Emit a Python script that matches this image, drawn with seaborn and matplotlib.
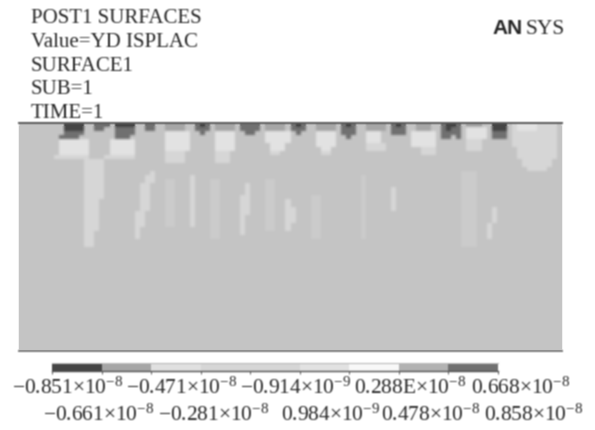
"""
ANSYS surface contour plot redrawn as a seaborn heatmap
"""

import numpy as np
import matplotlib
matplotlib.use("Agg")
import matplotlib.pyplot as plt
from matplotlib.colors import ListedColormap
import seaborn as sns

# Contour bands read off the legend, dark to dark (index = band number)
# 9 is the very faint band of the slivers, 10 only shows in the legend strip
band_colors = ['#454545', '#a6a6a6', '#e0e0e0', '#d6d6d6', '#c4c4c4',
               '#e2e2e2', '#f8f8f8', '#b2b2b2', '#707070', '#cbcbcb', '#d6d6d6']
legend_bands = [0, 1, 2, 3, 10, 5, 6, 7, 8]

title_lines = ['POST1 SURFACES', 'Value=YD ISPLAC', 'SURFACE1', 'SUB=1', 'TIME=1']

labels_top = ['−0.851×10$^{-8}$', '−0.471×10$^{-8}$', '−0.914×10$^{-9}$',
              '0.288E×10$^{-8}$', '0.668×10$^{-8}$']
labels_bottom = ['−0.661×10$^{-8}$', '−0.281×10$^{-8}$', '0.984×10$^{-9}$',
                 '0.478×10$^{-8}$', '0.858×10$^{-8}$']

# Band number per cell, top of the section downwards, blocks of 10 columns
B = '4444444444'
E = '44444444'
field_rows = [
    '4444444440 0004488840 0004488441 1114480841 1114888841 1114808441 1114808441 1114808441 1144800841 1144000435 55533334',
    '4444444440 0004488448 8884488441 1114488841 1114888841 1114888441 1114888441 1114888441 1144808845 5554000435 55533334',
    '4444444448 8884444448 8884444445 5555448445 5554488445 5555484445 5554888445 5544888455 5554888845 5554888433 33333334',
    '4444444488 8844444448 8844444445 5555444445 5554444445 5555444445 5554484445 5544444455 5554884845 5554888433 33333334',
    '4444444455 5555444455 5554444445 5555444445 5554444445 5555444445 5554444445 5544444455 5554444443 3344444433 33333334',
    '4444444455 5555444455 5554444445 5555444445 5554444444 5554444445 5554444443 3334444455 5554444443 3344444433 33333334',
    '4444444455 5555444455 5554444445 5555444445 5554444444 5554444444 5544444443 3334444444 3334444443 3344444443 33333334',
    '4444444455 5555444455 5554444443 3334444443 3344444444 3344444444 3344444444 4444444444 3334444444 4444444443 33333334',
    '4444444333 3333444333 3334444443 3334444443 3344444444 4444444444 4444444444 4444444444 4444444444 4444444443 33333334',
    '4444444444 4443333444 4444444443 3334444443 3344444444 4444444444 4444444444 4444444444 4444444444 4444444444 33333344',
    '4444444444 4443333444 4444444444 4444444444 4444444444 4444444444 4444444444 4444444444 4444444444 4444444444 33333344',
    '4444444444 4443333444 4444444444 4444444444 4444444444 4444444444 4444444444 4444444444 4444444444 4444444444 43333444',
    '4444444444 4443333444 4444443444 4444444444 4444444444 4444444444 4444444444 4444444444 4444444499 9444444444 44444444',
    '4444444444 4443333444 4444433444 4444344444 4444444444 4444444444 4444444494 4444444444 4444444499 9444444444 44444444',
    '4444444444 4443333444 4444433449 9444344499 4444444449 9444444444 4444444494 4444444444 4444444499 9444444444 44444444',
    '4444444444 4443333444 4444334449 9444344499 4444434449 9444444444 4444444494 4444444444 4444444499 9444444444 44444444',
    '4444444444 4443333444 4444334449 9444344499 4444434449 9444444444 4444444494 4444344444 4444444499 9444444444 44444444',
    '4444444444 4443333444 4444334449 9444344499 4444434449 9444444444 4444444494 4444344444 4444444499 9444444444 44444444',
    '4444444444 4443333444 4444334449 9444344499 4444334449 9444444499 4444444494 4444344444 4444444499 9444444444 44444444',
    '4444444444 4443334444 4444334449 9444344499 4444334449 9443444499 4444444494 4444344444 4444444499 9444444444 44444444',
    '4444444444 4443334444 4444334449 9444344499 4444334449 9443444499 4444444494 4444344444 4444444499 9444444444 44444444',
    '4444444444 4443334444 4444334449 9444344499 4444334449 9443344499 4444444494 4444344444 4444444499 9444344444 44444444',
    '4444444444 4443334444 4443344449 9444344499 4444334449 9443344499 4444444494 4444444444 4444444499 9444344444 44444444',
    '4444444444 4443334444 4443344449 9444344499 4444344449 9443344499 4444444494 4444444444 4444444499 9444344444 44444444',
    '4444444444 4443334444 4443344449 9444344499 4444344449 9443344499 4444444494 4444444444 4444444499 9444344444 44444444',
    '4444444444 4443334444 4443344449 9444344499 4444344449 9443444499 4444444494 4444444444 4444444499 9443444444 44444444',
    '4444444444 4443334444 4443444444 4444444499 4444344449 9443444499 4444444494 4444444444 4444444499 9443444444 44444444',
    '4444444444 4443344444 4443444444 4444444499 4444344444 4444444499 4444444494 4444444444 4444444499 9443444444 44444444',
    '4444444444 4443344444 4443444444 4444444499 4444444444 4444444499 4444444494 4444444444 4444444499 9443444444 44444444',
    '4444444444 4443344444 4444444444 4444444444 4444444444 4444444444 4444444444 4444444444 4444444499 9444444444 44444444',
    '4444444444 4443344444 4444444444 4444444444 4444444444 4444444444 4444444444 4444444444 4444444499 9444444444 44444444',
] + [' '.join([B] * 10 + [E])] * 26

W, H = 595, 431
field = np.array([[int(c) for c in row.replace(' ', '')] for row in field_rows])

plt.rcParams['font.family'] = ['Liberation Serif', 'DejaVu Serif']
plt.rcParams['mathtext.fontset'] = 'custom'
plt.rcParams['mathtext.rm'] = 'Liberation Serif'
plt.rcParams['mathtext.default'] = 'regular'
TEXT = '#262626'


def px_axes(fig, x0, y0, x1, y1):
    # axes from image pixels, y counted from the top
    return fig.add_axes([x0 / W, 1 - y1 / H, (x1 - x0) / W, (y1 - y0) / H])


def px_text(fig, x, y, s, **kw):
    fig.text(x / W, 1 - y / H, s, color=TEXT, va='baseline', **kw)


def soften(img, kernel):
    # the reference is a blurry scan, run a small kernel over both directions
    kernel = np.array(kernel, dtype=float)
    kernel /= kernel.sum()
    pad = len(kernel) // 2
    for axis in (0, 1):
        padded = np.pad(img, [(pad, pad) if a == axis else (0, 0) for a in range(3)], mode='edge')
        img = np.apply_along_axis(lambda v: np.convolve(v, kernel, mode='valid'), axis, padded)
    return img


fig = plt.figure(figsize=(W / 100, H / 100), dpi=100, facecolor='white')
cmap = ListedColormap(band_colors)

# Contour field
ax = px_axes(fig, 19, 124, 562, 352)
sns.heatmap(field, ax=ax, cmap=cmap, vmin=-0.5, vmax=10.5, cbar=False,
            xticklabels=False, yticklabels=False)
ax.tick_params(length=0)
for side in ['left', 'right']:
    ax.spines[side].set_visible(False)
ax.spines['top'].set_visible(True)
ax.spines['top'].set_color('#5a5a5a')
ax.spines['top'].set_linewidth(1.4)
ax.spines['bottom'].set_visible(True)
ax.spines['bottom'].set_color('#7a7a7a')
ax.spines['bottom'].set_linewidth(1.4)

# Legend strip
bar = px_axes(fig, 52, 364, 498, 372)
sns.heatmap([legend_bands], ax=bar, cmap=cmap, vmin=-0.5, vmax=10.5, cbar=False,
            xticklabels=False, yticklabels=False)
bar.set_xticks(np.arange(len(legend_bands) + 1))
bar.set_yticks([])
bar.tick_params(axis='x', length=2.5, width=0.7, color='#555555', labelbottom=False)
bar.spines['bottom'].set_visible(True)
bar.spines['bottom'].set_color('#555555')
bar.spines['bottom'].set_linewidth(1.0)
bar.spines['top'].set_visible(True)
bar.spines['top'].set_color('#bbbbbb')
bar.spines['top'].set_linewidth(0.8)

# Header text
for i, line in enumerate(title_lines):
    px_text(fig, 31, 23 + i * 23.8, line, fontsize=15)
px_text(fig, 492, 34, 'AN', fontsize=15, fontweight='bold', family=['Liberation Sans'])
px_text(fig, 526, 34, 'SYS', fontsize=15.5)

# Staggered legend labels
for x, s in zip([12, 126, 240, 354, 471], labels_top):
    px_text(fig, x, 394, s, fontsize=15.4)
for x, s in zip([43, 158, 281, 381, 484], labels_bottom):
    px_text(fig, x, 421, s, fontsize=15.4)

fig.savefig('out.png', dpi=100)

# Soften like the scan: a bit overall, more inside the contour field
img = plt.imread('out.png')[:, :, :3]
out = soften(img, [1, 2, 1])
inner = soften(img[126:350, 19:562], [1, 2, 3, 2, 1])
out[126:350, 19:562] = inner
plt.imsave('out.png', np.clip(out, 0, 1))
